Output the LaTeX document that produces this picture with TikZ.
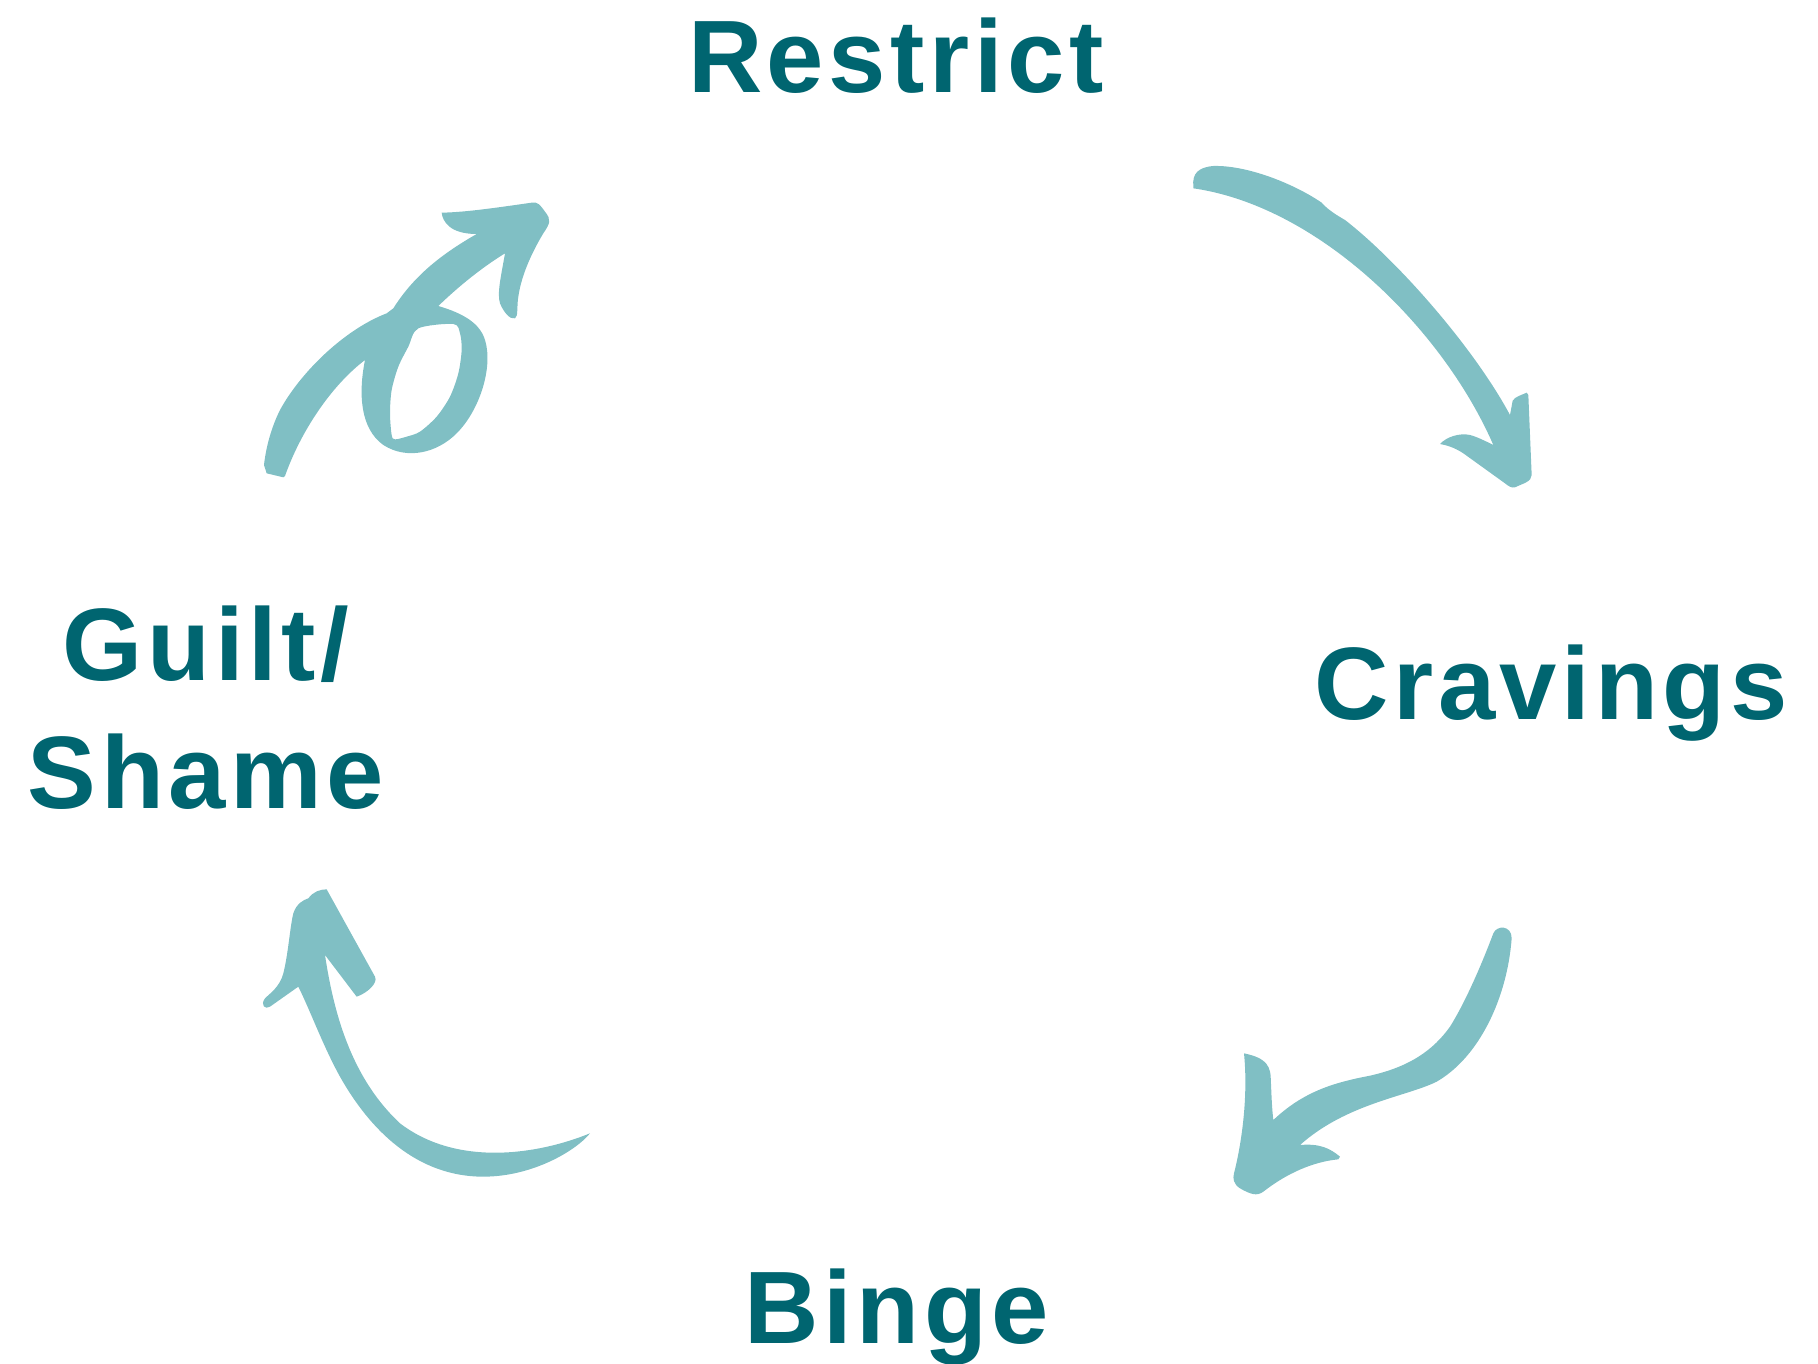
\documentclass[tikz,border=0pt]{standalone}
\usepackage{fontspec}
\setmainfont{Liberation Sans}
\newfontfamily\labelfont[LetterSpace=4.5]{Liberation Sans}
\definecolor{txtc}{RGB}{0,101,112}
\definecolor{arrc}{RGB}{128,191,196}
\begin{document}
\begin{tikzpicture}[x=1pt,y=-1pt,
  lbl/.style={text=txtc, font=\labelfont\bfseries\fontsize{103}{128}\selectfont, inner sep=0pt, anchor=base, align=center},
  arr/.style={fill=arrc, draw=none}]
\useasboundingbox (0,0) rectangle (1818,1364);
% labels
\node[lbl] (restrict) at (896,93) {Restrict};
\node[lbl] (cravings) at (1551,719) {Cravings};
\node[lbl] (binge) at (897,1343) {Binge};
\node[lbl] (guilt) at (206,808) {Guilt/\\Shame};
% arrow 1: guilt -> restrict (with loop)
\begin{scope}[shift={(250,180)}, scale=1/3]
\fill[arr, even odd rule]
  (42,855) -- (50,880) -- (100,892) -- (105,888)
  .. controls (150,760) and (240,620) .. (345,540)
  .. controls (325,640) and (330,745) .. (400,795)
  .. controls (470,840) and (560,820) .. (620,760)
  .. controls (690,690) and (730,560) .. (705,480)
  .. controls (690,430) and (640,400) .. (565,378)
  .. controls (630,315) and (700,260) .. (765,220)
  .. controls (755,280) and (740,340) .. (750,370)
  .. controls (760,395) and (780,420) .. (795,415)
  .. controls (805,410) and (800,380) .. (805,350)
  .. controls (815,280) and (850,210) .. (880,160)
  .. controls (900,130) and (905,120) .. (885,95)
  .. controls (870,75) and (865,65) .. (845,68)
  .. controls (760,80) and (650,97) .. (575,98)
  .. controls (578,125) and (600,162) .. (680,162)
  .. controls (570,225) and (490,290) .. (430,385)
  -- (410,400)
  .. controls (280,450) and (150,580) .. (90,690)
  .. controls (65,740) and (48,800) .. (42,855) -- cycle
  plot[smooth cycle] coordinates {(505,445) (610,432) (630,460) (635,510) (625,580) (600,650) (560,710) (510,755) (470,770) (435,778) (425,765) (420,700) (425,630) (445,560) (475,500)};
\end{scope}
% arrow 2: restrict -> cravings
\begin{scope}[shift={(1180,150)}, scale=1/3]
\fill[arr]
  (40,115) -- (40,110)
  .. controls (36,70) and (55,52) .. (100,48)
  .. controls (200,45) and (340,100) .. (425,158)
  .. controls (440,175) and (460,190) .. (495,210)
  .. controls (650,330) and (880,590) .. (990,795)
  -- (998,752)
  .. controls (1005,740) and (1025,735) .. (1040,728)
  -- (1045,735) -- (1055,975)
  .. controls (1055,995) and (1030,1000) .. (1005,1012)
  .. controls (995,1015) and (985,1008) .. (975,1000)
  -- (850,910)
  .. controls (820,890) and (795,885) .. (780,882)
  .. controls (800,860) and (840,848) .. (870,855)
  .. controls (890,860) and (920,875) .. (940,885)
  .. controls (790,540) and (420,170) .. (40,115) -- cycle;
\end{scope}
% arrow 3: cravings -> binge
\begin{scope}[shift={(1220,910)}, scale=1/3]
\fill[arr]
  (875,85)
  .. controls (862,260) and (780,440) .. (650,515)
  .. controls (560,560) and (380,580) .. (240,705)
  .. controls (300,700) and (330,715) .. (360,740)
  -- (355,748)
  .. controls (280,755) and (200,790) .. (130,845)
  .. controls (110,860) and (90,852) .. (60,835)
  .. controls (40,822) and (38,805) .. (42,790)
  .. controls (65,700) and (85,560) .. (72,430)
  .. controls (120,440) and (150,455) .. (152,500)
  .. controls (154,540) and (155,590) .. (160,630)
  .. controls (250,545) and (340,518) .. (450,497)
  .. controls (570,470) and (640,420) .. (690,350)
  .. controls (740,270) and (790,150) .. (820,70)
  .. controls (830,45) and (875,45) .. (875,85) -- cycle;
\end{scope}
% arrow 4: binge -> guilt
\begin{scope}[shift={(250,870)}, scale=1/3]
\fill[arr]
  (1020,790)
  .. controls (980,840) and (850,920) .. (700,920)
  .. controls (500,920) and (360,780) .. (270,620)
  .. controls (220,530) and (180,420) .. (145,350)
  -- (60,410)
  .. controls (45,420) and (30,405) .. (45,385)
  .. controls (60,370) and (90,350) .. (100,310)
  .. controls (115,250) and (120,170) .. (130,130)
  .. controls (140,100) and (160,90) .. (175,85)
  .. controls (190,65) and (210,58) .. (230,58)
  -- (375,320)
  .. controls (385,340) and (350,370) .. (320,380)
  -- (225,255)
  .. controls (250,420) and (300,620) .. (450,760)
  .. controls (620,890) and (860,855) .. (1020,790) -- cycle;
\end{scope}
\end{tikzpicture}
\end{document}
